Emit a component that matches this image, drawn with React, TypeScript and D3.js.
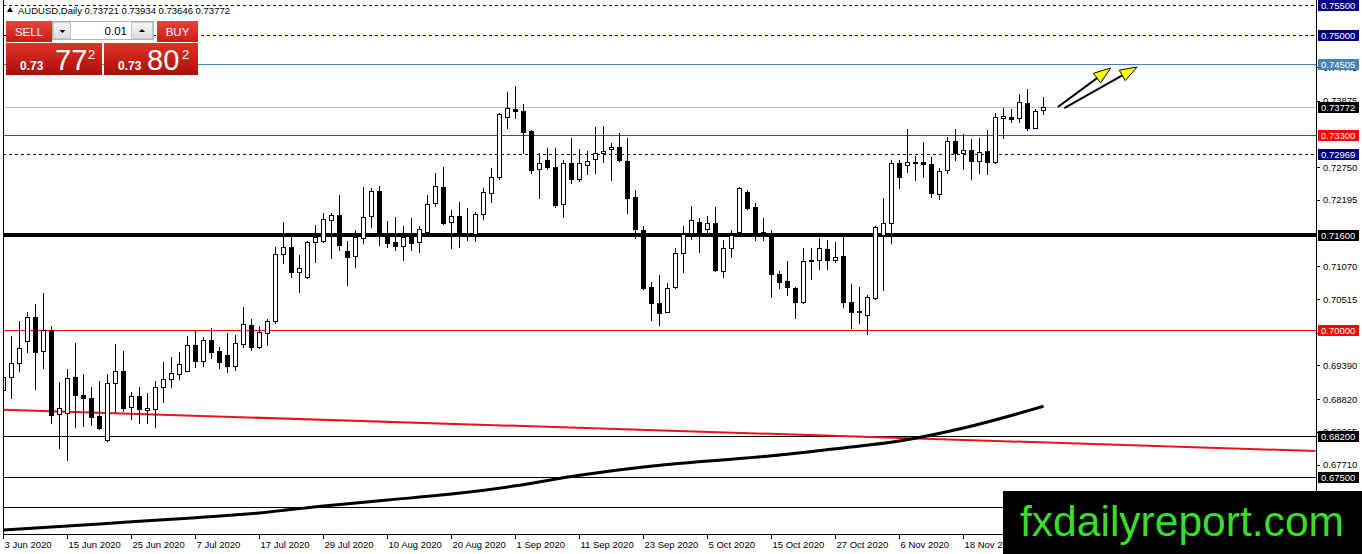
import React from "react";
import * as d3 from "d3";

// daily AUDUSD bars, 3 Jun 2020 onwards (one per weekday)
const openPrices = [
  0.6898, 0.692, 0.6943, 0.6981, 0.7021, 0.6964, 0.6999, 0.6857, 0.6859, 0.692,
  0.6889, 0.6884, 0.6853, 0.6813, 0.6909, 0.693, 0.6869, 0.6887, 0.6864, 0.6865,
  0.6903, 0.6916, 0.6925, 0.693, 0.6974, 0.6947, 0.6982, 0.6964, 0.6957, 0.6938,
  0.6975, 0.7008, 0.697, 0.6994, 0.7014, 0.7128, 0.714, 0.7097, 0.7089, 0.7148,
  0.715, 0.7186, 0.7194, 0.7133, 0.7125, 0.7155, 0.7192, 0.7235, 0.7157, 0.7148,
  0.7142, 0.7157, 0.7148, 0.7165, 0.7214, 0.7242, 0.7182, 0.7192, 0.7159, 0.7162,
  0.7196, 0.7231, 0.7258, 0.736, 0.7374, 0.737, 0.7336, 0.7272, 0.7287, 0.7275,
  0.7213, 0.7282, 0.7255, 0.7279, 0.7289, 0.7299, 0.7306, 0.7309, 0.7286, 0.7225,
  0.7169, 0.7072, 0.7045, 0.703, 0.7072, 0.713, 0.7164, 0.7182, 0.717, 0.7181,
  0.7099, 0.7138, 0.7165, 0.7233, 0.7208, 0.7165, 0.716, 0.7094, 0.7082, 0.707,
  0.7047, 0.7116, 0.7118, 0.7136, 0.7118, 0.7125, 0.7047, 0.7031, 0.7025, 0.7053,
  0.716, 0.7181, 0.7282, 0.7279, 0.7284, 0.7284, 0.7281, 0.723, 0.727, 0.732,
  0.7299, 0.7304, 0.7286, 0.7303, 0.7284, 0.7358, 0.736, 0.7358, 0.7384, 0.7342,
  0.73721,
];
const highPrices = [
  0.6982, 0.6989, 0.7014, 0.703, 0.7043, 0.7062, 0.7006, 0.6911, 0.6933, 0.6977,
  0.6925, 0.6903, 0.6913, 0.6925, 0.6975, 0.6964, 0.6894, 0.6903, 0.6892, 0.6913,
  0.6945, 0.6953, 0.6962, 0.6989, 0.6997, 0.6987, 0.7003, 0.697, 0.6994, 0.6991,
  0.7038, 0.7018, 0.7006, 0.7018, 0.714, 0.7182, 0.716, 0.7126, 0.715, 0.7177,
  0.7198, 0.7198, 0.7228, 0.715, 0.7169, 0.7242, 0.724, 0.7243, 0.7184, 0.7191,
  0.7175, 0.7189, 0.7175, 0.7228, 0.7265, 0.7275, 0.7203, 0.7216, 0.7206, 0.7199,
  0.724, 0.7274, 0.7367, 0.7403, 0.7413, 0.7382, 0.7338, 0.7299, 0.7308, 0.7308,
  0.7287, 0.7325, 0.7306, 0.7303, 0.7343, 0.7345, 0.7316, 0.7333, 0.7325, 0.7236,
  0.7175, 0.7081, 0.7092, 0.7079, 0.7138, 0.7175, 0.7209, 0.7189, 0.7192, 0.7208,
  0.7152, 0.7169, 0.7242, 0.7236, 0.7214, 0.7189, 0.7169, 0.7099, 0.7116, 0.7072,
  0.7138, 0.7138, 0.7155, 0.7152, 0.7148, 0.716, 0.7077, 0.7072, 0.7059, 0.7175,
  0.7223, 0.7287, 0.7287, 0.734, 0.7294, 0.7318, 0.7292, 0.7274, 0.7326, 0.734,
  0.7331, 0.7323, 0.7325, 0.7338, 0.7367, 0.7375, 0.7374, 0.7399, 0.7408, 0.7374,
  0.73934,
];
const lowPrices = [
  0.6881, 0.6884, 0.693, 0.6962, 0.6899, 0.6935, 0.6842, 0.6799, 0.6779, 0.6835,
  0.6836, 0.6838, 0.6831, 0.6811, 0.686, 0.6862, 0.6848, 0.6842, 0.6842, 0.6835,
  0.6877, 0.6903, 0.6916, 0.6929, 0.6936, 0.6938, 0.6952, 0.6935, 0.6928, 0.6931,
  0.697, 0.6965, 0.6969, 0.6974, 0.7011, 0.7113, 0.7089, 0.7064, 0.7088, 0.7114,
  0.7148, 0.7121, 0.7135, 0.7075, 0.7106, 0.7147, 0.7174, 0.7143, 0.714, 0.7135,
  0.7118, 0.7135, 0.7131, 0.7164, 0.7209, 0.7179, 0.7138, 0.714, 0.7152, 0.715,
  0.7187, 0.7216, 0.7255, 0.7342, 0.7358, 0.7299, 0.7265, 0.7223, 0.7272, 0.7208,
  0.7191, 0.7248, 0.7252, 0.7264, 0.7265, 0.7284, 0.7253, 0.7286, 0.7198, 0.7155,
  0.7069, 0.7016, 0.7008, 0.7029, 0.707, 0.7097, 0.7153, 0.7131, 0.7162, 0.71,
  0.7089, 0.7123, 0.7164, 0.7204, 0.7152, 0.7152, 0.7055, 0.707, 0.7059, 0.702,
  0.7045, 0.7086, 0.7103, 0.7103, 0.7114, 0.7038, 0.7003, 0.7011, 0.6992, 0.7052,
  0.7067, 0.7147, 0.724, 0.7267, 0.7253, 0.7258, 0.7225, 0.7221, 0.7265, 0.7287,
  0.7272, 0.7255, 0.7265, 0.7264, 0.7283, 0.7325, 0.7352, 0.7352, 0.7338, 0.7341,
  0.73646,
];
const closePrices = [
  0.692, 0.6943, 0.6969, 0.7021, 0.6962, 0.6999, 0.6855, 0.6867, 0.6918, 0.6889,
  0.6884, 0.6852, 0.6833, 0.6909, 0.693, 0.6867, 0.6887, 0.6865, 0.6867, 0.6903,
  0.6916, 0.6926, 0.6942, 0.6974, 0.6947, 0.6982, 0.6962, 0.6945, 0.6938, 0.6977,
  0.7009, 0.697, 0.6996, 0.7014, 0.7128, 0.714, 0.7097, 0.7104, 0.7148, 0.7157,
  0.7187, 0.7194, 0.7143, 0.7123, 0.7157, 0.7191, 0.7235, 0.7162, 0.7147, 0.7142,
  0.7157, 0.7147, 0.717, 0.7213, 0.7243, 0.7181, 0.7192, 0.7164, 0.716, 0.7196,
  0.7233, 0.7258, 0.7365, 0.7375, 0.737, 0.7335, 0.727, 0.7282, 0.7275, 0.7211,
  0.7282, 0.7255, 0.7282, 0.7286, 0.7299, 0.7303, 0.7309, 0.7287, 0.7223, 0.717,
  0.707, 0.7045, 0.7028, 0.707, 0.713, 0.7162, 0.7186, 0.7162, 0.7181, 0.7101,
  0.7138, 0.716, 0.724, 0.7206, 0.716, 0.7159, 0.7094, 0.7081, 0.7072, 0.7047,
  0.7116, 0.7118, 0.7138, 0.7118, 0.7123, 0.7047, 0.703, 0.703, 0.7055, 0.7174,
  0.7181, 0.7282, 0.7258, 0.7284, 0.7282, 0.7281, 0.7231, 0.7269, 0.732, 0.7299,
  0.7304, 0.7286, 0.7301, 0.7284, 0.736, 0.7362, 0.7357, 0.7386, 0.7342, 0.737,
  0.73772,
];

// slow moving average, sampled every 8 bars
const maBars = [0, 8, 16, 24, 32, 40, 48, 56, 64, 72, 80, 88, 96, 104, 112, 120, 128, 130];
const maValues = [
  0.666, 0.6667, 0.6674, 0.6681, 0.6689, 0.6701, 0.6711, 0.6721, 0.6735, 0.6753,
  0.6767, 0.6777, 0.6786, 0.6798, 0.6811, 0.6833, 0.6862, 0.687,
];

// red trend line (bar index, price)
const trendBars = [0, 164];
const trendValues = [0.6864, 0.6794];

// horizontal levels and what kind of line each one is
const levelValues = [0.755, 0.75, 0.74505, 0.73772, 0.733, 0.72969, 0.716, 0.7, 0.682, 0.675, 0.67];
const levelKinds = ["dash", "dash", "blue", "bid", "red", "dash", "thick", "red", "thin", "thin", "thin"];

// price scale labels (those fully under a level tag are left out)
const priceTicks = [0.74445, 0.73875, 0.7275, 0.72195, 0.7107, 0.70515, 0.69945, 0.6939, 0.6882, 0.68265, 0.6771];

const dateTickBars = [0, 8, 16, 24, 32, 40, 48, 56, 64, 72, 80, 88, 96, 104, 112, 120];
const dateTickLabels = [
  "3 Jun 2020", "15 Jun 2020", "25 Jun 2020", "7 Jul 2020", "17 Jul 2020",
  "29 Jul 2020", "10 Aug 2020", "20 Aug 2020", "1 Sep 2020", "11 Sep 2020",
  "23 Sep 2020", "5 Oct 2020", "15 Oct 2020", "27 Oct 2020", "6 Nov 2020",
  "18 Nov 2020",
];

// the two yellow arrows, in bar/price terms
const arrowFromBar = [131.8, 132.6];
const arrowFromPrice = [0.73771, 0.73754];
const arrowToBar = [138.4, 141.7];
const arrowToPrice = [0.74432, 0.74449];

const headerText = "AUDUSD,Daily  0.73721 0.73934 0.73646 0.73772";

const W = 1362;
const H = 554;
const plotRight = 1316;
const plotBottom = 535;
const watermarkTop = 491;
const font = "'Liberation Sans', Arial, sans-serif";

const levelStyle: Record<string, { stroke: string; width: number; dash?: string; bg: string }> = {
  dash: { stroke: "#000080", width: 1, dash: "3,3", bg: "#000080" },
  blue: { stroke: "#4682b4", width: 1, bg: "#4682b4" },
  bid: { stroke: "#c0c0c0", width: 1, bg: "#000000" },
  red: { stroke: "#ff0000", width: 1, bg: "#ff0000" },
  thick: { stroke: "#000000", width: 4, bg: "#000000" },
  thin: { stroke: "#000000", width: 1, bg: "#000000" },
};

const App = () => {
  const x = d3.scaleLinear().domain([0, 1]).range([3.5, 11.5]);
  const y = d3.scaleLinear().domain([0.675, 0.755]).range([477, 5]);
  const crisp = (v: number) => Math.round(v) + 0.5;

  const bars = openPrices.map((o, i) => ({
    i,
    o,
    h: highPrices[i],
    l: lowPrices[i],
    c: closePrices[i],
  }));

  const maLine = d3
    .line<number>()
    .x((_, k) => x(maBars[k]))
    .y((v) => y(v))
    .curve(d3.curveMonotoneX)(maValues);

  const trendLine = d3
    .line<number>()
    .x((_, k) => x(trendBars[k]))
    .y((v) => y(v))(trendValues);

  const arrows = arrowFromBar.map((b, k) => {
    const x0 = x(b);
    const y0 = y(arrowFromPrice[k]);
    const x1 = x(arrowToBar[k]);
    const y1 = y(arrowToPrice[k]);
    const len = Math.hypot(x1 - x0, y1 - y0);
    const ux = (x1 - x0) / len;
    const uy = (y1 - y0) / len;
    const headL = 17;
    const headW = 6;
    const bx = x1 - ux * headL;
    const by = y1 - uy * headL;
    const head = `M${x1},${y1}L${bx - uy * headW},${by + ux * headW}L${bx + uy * headW},${by - ux * headW}Z`;
    return { x0, y0, bx, by, head };
  });

  return (
    <div style={{ position: "absolute", left: 0, top: 0 }}>
      <svg width={W} height={H} style={{ display: "block", background: "#fff" }}>
        <defs>
          <clipPath id="plot">
            <rect x={3} y={0} width={plotRight - 3} height={plotBottom} />
          </clipPath>
          <linearGradient id="btnRed" x1="0" y1="0" x2="0" y2="1">
            <stop offset="0" stopColor="#e8433c" />
            <stop offset="1" stopColor="#c81d17" />
          </linearGradient>
          <linearGradient id="bigRed" x1="0" y1="0" x2="0" y2="1">
            <stop offset="0" stopColor="#e2312a" />
            <stop offset="1" stopColor="#ab0e0a" />
          </linearGradient>
          <linearGradient id="btnGrey" x1="0" y1="0" x2="0" y2="1">
            <stop offset="0" stopColor="#f6f6f6" />
            <stop offset="1" stopColor="#dcdcdc" />
          </linearGradient>
        </defs>

        {/* levels */}
        <g clipPath="url(#plot)">
          {levelValues.map((v, k) => {
            const s = levelStyle[levelKinds[k]];
            const yy = s.width === 4 ? Math.round(y(v)) : crisp(y(v));
            return (
              <line
                key={"lv" + k}
                x1={3}
                x2={plotRight}
                y1={yy}
                y2={yy}
                stroke={s.stroke}
                strokeWidth={s.width}
                strokeDasharray={s.dash}
              />
            );
          })}

          <path d={trendLine || ""} fill="none" stroke="#e8141c" strokeWidth={2} />
          <path d={maLine || ""} fill="none" stroke="#000" strokeWidth={3} />

          {/* candles */}
          {bars.map((d) => {
            const cx = x(d.i);
            const top = Math.round(y(Math.max(d.o, d.c)));
            const bot = Math.round(y(Math.min(d.o, d.c)));
            const up = d.c >= d.o;
            return (
              <g key={"b" + d.i}>
                <line
                  x1={cx}
                  x2={cx}
                  y1={Math.round(y(d.h))}
                  y2={Math.round(y(d.l)) + 1}
                  stroke="#000"
                  strokeWidth={1}
                />
                <rect
                  x={cx - 2}
                  y={top + 0.5}
                  width={4}
                  height={Math.max(bot - top, 0.01)}
                  fill={up ? "#fff" : "#000"}
                  stroke="#000"
                  strokeWidth={1}
                />
              </g>
            );
          })}
        </g>

        {/* frame */}
        <line x1={3.5} x2={3.5} y1={0} y2={plotBottom} stroke="#000" />
        <line x1={3} x2={plotRight + 1} y1={plotBottom - 0.5} y2={plotBottom - 0.5} stroke="#000" />
        <line x1={plotRight + 0.5} x2={plotRight + 0.5} y1={0} y2={plotBottom} stroke="#000" />

        {/* price axis */}
        {priceTicks.map((v) => (
          <g key={"pt" + v}>
            <line x1={plotRight} x2={plotRight + 4} y1={crisp(y(v))} y2={crisp(y(v))} stroke="#000" />
            <text
              x={plotRight + 7}
              y={y(v) + 3.5}
              fontFamily={font}
              fontSize={9.5}
              fill="#000"
            >
              {v.toFixed(5)}
            </text>
          </g>
        ))}
        {levelValues.map((v, k) => {
          const s = levelStyle[levelKinds[k]];
          const yy = Math.round(y(v));
          // tags that sit under the watermark box are not visible
          if (yy > watermarkTop) return null;
          return (
            <g key={"ll" + k}>
              <rect x={plotRight + 2} y={yy - 5} width={41} height={11} fill={s.bg} />
              <text x={plotRight + 5} y={yy + 4} fontFamily={font} fontSize={9.5} fill="#fff">
                {v.toFixed(5)}
              </text>
            </g>
          );
        })}

        {/* date axis */}
        {dateTickBars.map((b, k) => (
          <g key={"dt" + b}>
            <line x1={x(b)} x2={x(b)} y1={plotBottom} y2={plotBottom + 4} stroke="#000" />
            <text x={x(b) + 1} y={plotBottom + 13} fontFamily={font} fontSize={9.5} fill="#000">
              {dateTickLabels[k]}
            </text>
          </g>
        ))}

        {/* yellow arrows */}
        {arrows.map((a, k) => (
          <g key={"ar" + k}>
            <line x1={a.x0} y1={a.y0} x2={a.bx} y2={a.by} stroke="#000" strokeWidth={2} />
            <path d={a.head} fill="#ffff00" stroke="#000" strokeWidth={1} strokeLinejoin="miter" />
          </g>
        ))}

        {/* header */}
        <path d="M7,12L10,7L13,12Z" fill="#000" />
        <text
          x={18}
          y={13.5}
          fontFamily={font}
          fontSize={9.5}
          fill="#000"
          textLength={212}
          lengthAdjust="spacingAndGlyphs"
        >
          {headerText}
        </text>

        {/* one-click trading panel */}
        <g fontFamily={font}>
          <rect x={6} y={21} width={46} height={21} fill="url(#btnRed)" />
          <text x={29} y={35.5} textAnchor="middle" fontSize={11.5} fill="#fff">
            SELL
          </text>
          <rect x={52.5} y={21.5} width={101} height={18} fill="#fff" stroke="#b4b4b4" />
          <rect x={53.5} y={22.5} width={17} height={16} fill="url(#btnGrey)" stroke="#c8c8c8" />
          <rect x={131.5} y={22.5} width={21} height={16} fill="url(#btnGrey)" stroke="#c8c8c8" />
          <path d="M59.5,30L65.5,30L62.5,33Z" fill="#000" />
          <path d="M139,32L145,32L142,29Z" fill="#000" />
          <text x={127} y={35} textAnchor="end" fontSize={11.5} fill="#000">
            0.01
          </text>
          <rect x={157} y={21} width={41} height={21} fill="url(#btnRed)" />
          <text x={177.5} y={35.5} textAnchor="middle" fontSize={11.5} fill="#fff">
            BUY
          </text>

          <rect x={6} y={43} width={96} height={32} fill="url(#bigRed)" />
          <text x={20} y={70} fontSize={12} fontWeight="bold" fill="#fff">
            0.73
          </text>
          <text x={55} y={70} fontSize={29} fill="#fff">
            77
          </text>
          <text x={88} y={59} fontSize={13} fill="#fff">
            2
          </text>

          <rect x={104} y={43} width={94} height={32} fill="url(#bigRed)" />
          <text x={118} y={70} fontSize={12} fontWeight="bold" fill="#fff">
            0.73
          </text>
          <text x={147} y={70} fontSize={29} fill="#fff">
            80
          </text>
          <text x={182} y={59} fontSize={13} fill="#fff">
            2
          </text>
        </g>

        {/* watermark */}
        <rect x={1003} y={watermarkTop} width={W - 1003} height={H - watermarkTop} fill="#000" />
        <text
          x={1020}
          y={536}
          fontFamily={font}
          fontSize={42.5}
          fill="#3ade2a"
          textLength={324}
          lengthAdjust="spacingAndGlyphs"
        >
          fxdailyreport.com
        </text>
      </svg>
    </div>
  );
};

export default App;
